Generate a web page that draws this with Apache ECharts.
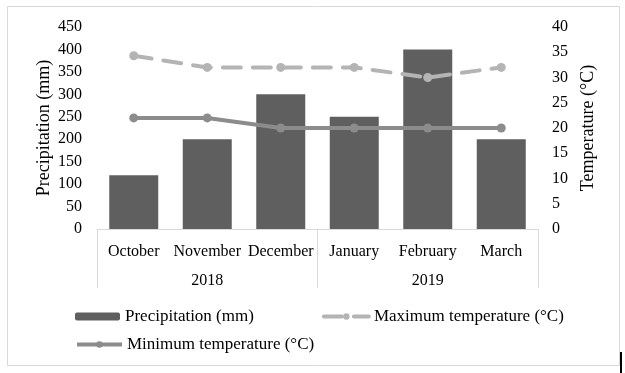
<!DOCTYPE html>
<html><head><meta charset="utf-8">
<script src="https://cdn.jsdelivr.net/npm/echarts@6/dist/echarts.min.js"></script>
<style>html,body{margin:0;padding:0;background:#fff}#c{width:625px;height:373px}</style>
</head><body><div id="c"></div>
<script>
const months = ['October','November','December','January','February','March'];
const years = ['2018','2019'];
const precipitation = [120, 200, 300, 250, 400, 200];
const maxTemp = [34.3, 32, 32, 32, 30, 32];
const minTemp = [22, 22, 20, 20, 20, 20];
const precipTicks = {min:0, max:450, interval:50};
const tempTicks = {min:0, max:40, interval:5};

const FONT = 'Liberation Serif';
const chart = echarts.init(document.getElementById('c'), null, {renderer:'canvas'});
const legText = {fontFamily:FONT,fontSize:17,color:'#000'};
chart.setOption({
  animation:false,
  textStyle:{fontFamily:FONT},
  graphic:[
    {type:'rect', shape:{x:7.5,y:6.5,width:612,height:359}, style:{fill:'none',stroke:'#d9d9d9',lineWidth:1}, silent:true},
    {type:'rect', shape:{x:620,y:352,width:2,height:21}, style:{fill:'#000'}, silent:true}
  ],
  grid:{left:97, right:87, top:27, bottom:144},
  legend:[
    {left:70, top:303, itemGap:68, itemWidth:45, itemHeight:8, textStyle:legText,
     data:[{name:'Precipitation (mm)'},
           {name:'Maximum temperature (°C)', lineStyle:{width:4}}]},
    {left:70, top:331, itemWidth:45, itemHeight:8, textStyle:legText,
     data:[{name:'Minimum temperature (°C)', lineStyle:{width:4}}]}
  ],
  xAxis:[
    {type:'category', data:months, boundaryGap:true,
     axisLine:{show:true, lineStyle:{color:'#d9d9d9', width:1}},
     axisTick:{show:false},
     axisLabel:{fontFamily:FONT, fontSize:16, color:'#000', margin:15, interval:0}},
    {type:'category', data:years, position:'bottom', boundaryGap:true,
     axisLine:{show:false},
     axisTick:{show:true, alignWithLabel:false, length:59, lineStyle:{color:'#d9d9d9', width:1}},
     axisLabel:{fontFamily:FONT, fontSize:16, color:'#000', margin:44}}
  ],
  yAxis:[
    {type:'value', min:precipTicks.min, max:precipTicks.max, interval:precipTicks.interval,
     name:'Precipitation (mm)', nameLocation:'middle', nameGap:44, nameMoveOverlap:false,
     nameTextStyle:{fontFamily:FONT, fontSize:18, color:'#000'},
     axisLine:{show:false}, axisTick:{show:false}, splitLine:{show:false},
     axisLabel:{fontFamily:FONT, fontSize:16, color:'#000', margin:15, padding:[3,0,0,0]}},
    {type:'value', min:tempTicks.min, max:tempTicks.max, interval:tempTicks.interval, position:'right',
     name:'Temperature (°C)', nameLocation:'middle', nameGap:41, nameMoveOverlap:false,
     nameTextStyle:{fontFamily:FONT, fontSize:18, color:'#000'},
     axisLine:{show:false}, axisTick:{show:false}, splitLine:{show:false},
     axisLabel:{fontFamily:FONT, fontSize:16, color:'#000', margin:14, padding:[3,0,0,0]}}
  ],
  series:[
    {name:'Precipitation (mm)', type:'bar', data:precipitation, xAxisIndex:0, yAxisIndex:0,
     barWidth:49, itemStyle:{color:'#5f5f5f'}},
    {name:'Maximum temperature (°C)', type:'line', data:maxTemp, xAxisIndex:0, yAxisIndex:1,
     symbol:'circle', symbolSize:9, itemStyle:{color:'#b4b4b4'},
     lineStyle:{color:'#b4b4b4', width:4, type:[18,12], cap:'round'}},
    {name:'Minimum temperature (°C)', type:'line', data:minTemp, xAxisIndex:0, yAxisIndex:1,
     symbol:'circle', symbolSize:9, itemStyle:{color:'#8c8c8c'},
     lineStyle:{color:'#8c8c8c', width:4}}
  ]
});
</script></body></html>
